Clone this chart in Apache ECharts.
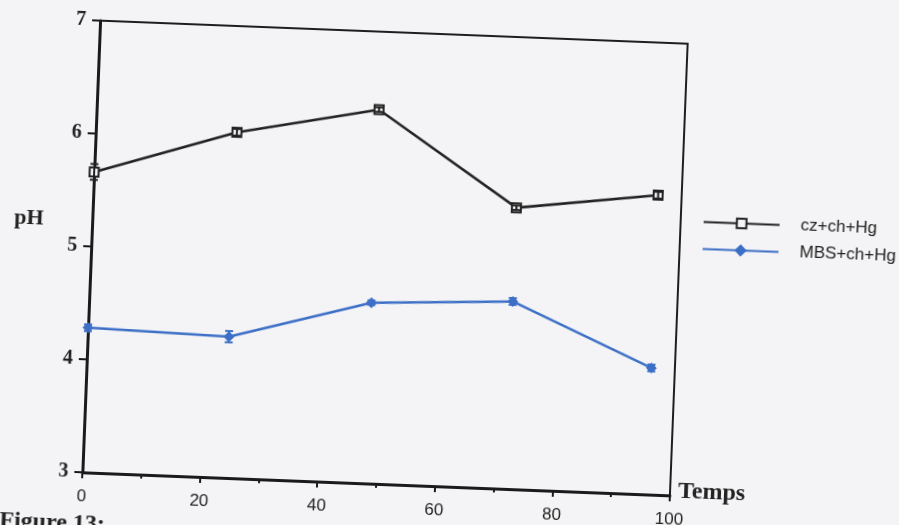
<!DOCTYPE html>
<html>
<head>
<meta charset="utf-8">
<script src="https://cdn.jsdelivr.net/npm/echarts@6/dist/echarts.min.js"></script>
<style>
  html, body { margin: 0; padding: 0; width: 899px; height: 525px; overflow: hidden; background: #f4f4f6; }
  #wrap {
    position: absolute; left: 0; top: 0; width: 899px; height: 600px;
    transform-origin: 385px 258px; transform: rotate(2.25deg);
  }
</style>
</head>
<body>
<div id="wrap"></div>
<script>
// Sampling times (h) and measured pH for both treatments
const hours = [0, 24, 48, 72, 96];
const phCz = [5.66, 6.06, 6.31, 5.49, 5.65];
const errCz = [0.07, 0.03, 0.02, 0.02, 0.03];
const phMbs = [4.28, 4.25, 4.60, 4.66, 4.12];
const errMbs = [0.03, 0.05, 0.02, 0.03, 0.03];
const seriesNames = ['cz+ch+Hg', 'MBS+ch+Hg'];

const black = '#222222';
const blue = '#3d6fc6';

const pairs = (xs, ys) => xs.map((x, i) => [x, ys[i]]);
const errData = (xs, ys, es) => xs.map((x, i) => [x, ys[i], es[i]]);

function errorBars(color) {
  return function (params, api) {
    const x = api.value(0), y = api.value(1), e = api.value(2);
    const lo = api.coord([x, y - e]);
    const hi = api.coord([x, y + e]);
    const cap = 4;
    const style = { stroke: color, lineWidth: 2 };
    return {
      type: 'group',
      children: [
        { type: 'line', shape: { x1: lo[0], y1: lo[1], x2: hi[0], y2: hi[1] }, style },
        { type: 'line', shape: { x1: lo[0] - cap, y1: lo[1], x2: lo[0] + cap, y2: lo[1] }, style },
        { type: 'line', shape: { x1: hi[0] - cap, y1: hi[1], x2: hi[0] + cap, y2: hi[1] }, style }
      ]
    };
  };
}

const chart = echarts.init(document.getElementById('wrap'), null, { renderer: 'canvas' });
chart.setOption({
  animation: false,
  backgroundColor: 'transparent',
  grid: {
    left: 91, top: 32, width: 588, height: 452,
    show: true, borderColor: '#1e1e1e', borderWidth: 2, backgroundColor: 'transparent'
  },
  legend: {
    data: seriesNames,
    orient: 'vertical',
    left: 696, top: 196,
    itemWidth: 76, itemHeight: 12, itemGap: 10,
    textStyle: { fontFamily: 'Liberation Sans', fontSize: 17, color: '#222', padding: [6, 0, 0, 16] }
  },
  xAxis: {
    type: 'value', min: 0, max: 100, interval: 20,
    axisLine: { show: true, lineStyle: { color: '#1a1a1a', width: 3 } },
    axisTick: { show: true, length: 6, lineStyle: { color: '#1a1a1a', width: 2 } },
    minorTick: { show: true, splitNumber: 2, length: 4, lineStyle: { color: '#1a1a1a', width: 2 } },
    splitLine: { show: false },
    axisLabel: { fontFamily: 'Liberation Sans', fontSize: 17, color: '#222', margin: 16 }
  },
  yAxis: {
    type: 'value', min: 3, max: 7, interval: 1,
    axisLine: { show: true, lineStyle: { color: '#1a1a1a', width: 3 } },
    axisTick: { show: true, length: 8, lineStyle: { color: '#1a1a1a', width: 2 } },
    splitLine: { show: false },
    axisLabel: { fontFamily: 'Liberation Serif', fontWeight: 'bold', fontSize: 20, color: '#222', margin: 14 }
  },
  graphic: [
    { type: 'text', left: 13, top: 221,
      style: { text: 'pH', font: 'bold 22px "Liberation Serif"', fill: '#222' } },
    { type: 'text', left: 687, top: 468,
      style: { text: 'Temps', font: 'bold 24px "Liberation Serif"', fill: '#222' } },
    { type: 'text', left: 10, top: 524,
      style: { text: 'Figure 13:', font: 'bold 24px "Liberation Serif"', fill: '#222' } }
  ],
  series: [
    {
      name: seriesNames[0], type: 'line', data: pairs(hours, phCz),
      symbol: 'rect', symbolSize: 9, z: 3,
      lineStyle: { color: black, width: 2.6 },
      itemStyle: { color: '#f4f4f6', borderColor: black, borderWidth: 2 }
    },
    {
      name: seriesNames[1], type: 'line', data: pairs(hours, phMbs),
      symbol: 'diamond', symbolSize: 10, z: 3,
      lineStyle: { color: blue, width: 2.5 },
      itemStyle: { color: blue, borderColor: blue, borderWidth: 1 }
    },
    {
      type: 'custom', name: 'errCz', data: errData(hours, phCz, errCz),
      renderItem: errorBars(black), z: 4, silent: true
    },
    {
      type: 'custom', name: 'errMbs', data: errData(hours, phMbs, errMbs),
      renderItem: errorBars(blue), z: 4, silent: true
    }
  ]
});
</script>
</body>
</html>
